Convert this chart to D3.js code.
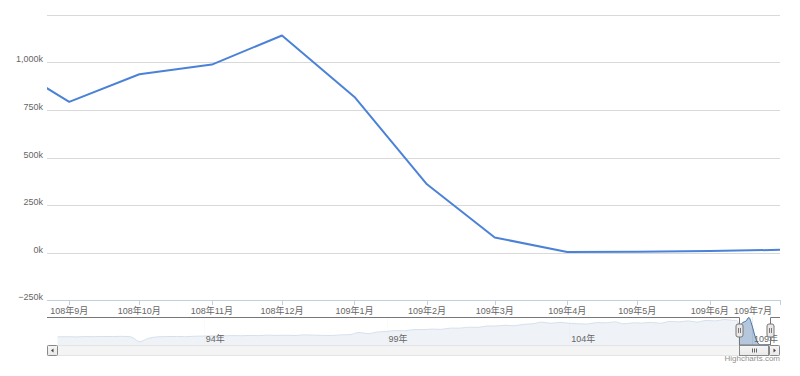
<!DOCTYPE html>
<html>
<head>
<meta charset="utf-8">
<script src="https://cdn.jsdelivr.net/npm/d3@7"></script>
<style>
  html, body { margin: 0; padding: 0; background: #fff; }
  svg { display: block; font-family: "Liberation Sans", Arial, "Noto Sans CJK TC", sans-serif; }
</style>
</head>
<body>
<svg id="chart" width="800" height="376"></svg>
<script>
// ---- Data (values in persons) ----
const mainDates  = ["2019-08-01","2019-09-01","2019-10-01","2019-11-01","2019-12-01","2020-01-01",
                    "2020-02-01","2020-03-01","2020-04-01","2020-05-01","2020-06-01","2020-07-01"];
const mainValues = [1027000, 793000, 938000, 989000, 1142000, 819000,
                    359000, 79000, 3000, 4000, 8000, 14000];

const yTicks = [-250000, 0, 250000, 500000, 750000, 1000000, 1250000];
const monthTicks = ["2019-09-01","2019-10-01","2019-11-01","2019-12-01","2020-01-01","2020-02-01",
                    "2020-03-01","2020-04-01","2020-05-01","2020-06-01","2020-07-01"];

// Navigator history: quarterly estimates (Jan, Apr, Jul, Oct) per year, in persons
const navYears = [2001,2002,2003,2004,2005,2006,2007,2008,2009,2010,2011,2012,2013,2014,2015,2016,2017,2018];
const navQuarterly = [
  [340000, 345000, 335000, 350000],
  [345000, 355000, 350000, 360000],
  [340000, 140000, 280000, 340000],
  [350000, 355000, 345000, 365000],
  [370000, 380000, 375000, 390000],
  [385000, 395000, 390000, 410000],
  [400000, 405000, 395000, 420000],
  [410000, 400000, 395000, 420000],
  [430000, 520000, 470000, 540000],
  [560000, 600000, 590000, 640000],
  [640000, 660000, 650000, 700000],
  [700000, 740000, 730000, 790000],
  [790000, 820000, 800000, 860000],
  [880000, 950000, 900000, 940000],
  [900000, 880000, 870000, 930000],
  [920000, 960000, 880000, 920000],
  [910000, 940000, 900000, 980000],
  [960000, 1000000, 950000, 1020000]
];
const nav2019Dates  = ["2019-01-01","2019-04-01","2019-07-01"];
const nav2019Values = [1000000, 1060000, 1020000];
const navYearTicks = ["2005-01-01","2010-01-01","2015-01-01","2020-01-01"];

// ---- Helpers ----
const parse = s => { const [y,m,d] = s.split("-").map(Number); return new Date(y, m-1, d); };
const rocMonth = d => `${d.getFullYear()-1911}年${d.getMonth()+1}月`;
const rocYear  = d => `${d.getFullYear()-1911}年`;

const svg = d3.select("#chart");

// ---- Main plot ----
const plot = { left: 47, right: 780, top: 15, bottom: 300 };
const x = d3.scaleTime()
  .domain([new Date(2019, 7, 22, 12), new Date(2020, 6, 1)])
  .range([plot.left, plot.right]);
const y = d3.scaleLinear()
  .domain([-250000, 1250000])
  .range([plot.bottom, plot.top]);

// gridlines
svg.append("g").selectAll("line").data(yTicks).join("line")
  .attr("x1", plot.left).attr("x2", plot.right)
  .attr("y1", d => Math.round(y(d)) + 0.5).attr("y2", d => Math.round(y(d)) + 0.5)
  .attr("stroke", "#d9d9d9").attr("stroke-width", 1);

// y labels (no label on top line)
svg.append("g").selectAll("text").data(yTicks.filter(v => v < 1250000)).join("text")
  .attr("x", 43).attr("y", d => Math.round(y(d)) - 0.5)
  .attr("text-anchor", "end")
  .attr("font-size", 9).attr("fill", "#666")
  .text(d => d3.format(",")(d / 1000) + "k");

// x axis line
svg.append("line")
  .attr("x1", plot.left).attr("x2", plot.right)
  .attr("y1", plot.bottom + 0.5).attr("y2", plot.bottom + 0.5)
  .attr("stroke", "#C0D0E0");

const mTicks = monthTicks.map(parse);
svg.append("g").selectAll("line").data(mTicks).join("line")
  .attr("x1", d => Math.round(x(d)) + 0.5).attr("x2", d => Math.round(x(d)) + 0.5)
  .attr("y1", plot.bottom).attr("y2", plot.bottom + 5)
  .attr("stroke", "#C0D0E0");

svg.append("g").selectAll("text").data(mTicks).join("text")
  .attr("x", (d, i) => i === mTicks.length - 1 ? 772 : x(d))
  .attr("y", 314)
  .attr("text-anchor", (d, i) => i === mTicks.length - 1 ? "end" : "middle")
  .attr("font-size", 9).attr("fill", "#666")
  .text(rocMonth);

// clip + line
svg.append("clipPath").attr("id", "plotClip").append("rect")
  .attr("x", plot.left).attr("y", plot.top)
  .attr("width", plot.right - plot.left).attr("height", plot.bottom - plot.top);

const mainData = mainDates.map((d, i) => ({ date: parse(d), value: mainValues[i] }));
svg.append("path")
  .datum(mainData)
  .attr("clip-path", "url(#plotClip)")
  .attr("fill", "none")
  .attr("stroke", "#4b82d8")
  .attr("stroke-width", 2)
  .attr("stroke-linejoin", "round")
  .attr("d", d3.line().x(d => x(d.date)).y(d => y(d.value)));

// ---- Navigator ----
const nav = { left: 47, right: 780, top: 317, bottom: 345 };
const nx = d3.scaleTime()
  .domain([new Date(2000, 8, 17), new Date(2020, 9, 7)])
  .range([nav.left, nav.right]);
const ny = d3.scaleLinear().domain([0, 1142000]).range([nav.bottom, nav.top + 0.5]);

const navData = [];
navYears.forEach((yr, i) => {
  navQuarterly[i].forEach((v, q) => navData.push({ date: new Date(yr, q * 3, 1), value: v }));
});
nav2019Dates.forEach((d, i) => navData.push({ date: parse(d), value: nav2019Values[i] }));
mainData.forEach(d => navData.push(d));

// year gridlines
const yTicksNav = navYearTicks.map(parse);
svg.append("g").selectAll("line").data(yTicksNav).join("line")
  .attr("x1", d => Math.round(nx(d)) + 0.5).attr("x2", d => Math.round(nx(d)) + 0.5)
  .attr("y1", nav.top).attr("y2", nav.bottom)
  .attr("stroke", "#ececec");

const area = d3.area().curve(d3.curveMonotoneX)
  .x(d => nx(d.date)).y0(nav.bottom).y1(d => ny(d.value));
const navLine = d3.line().curve(d3.curveMonotoneX)
  .x(d => nx(d.date)).y(d => ny(d.value));

svg.append("path").datum(navData)
  .attr("d", area).attr("fill", "#4572A7").attr("fill-opacity", 0.4);
svg.append("path").datum(navData)
  .attr("d", navLine).attr("fill", "none").attr("stroke", "#4572A7").attr("stroke-width", 1);

const selMin = nx(x.domain()[0]);
const selMax = nx(x.domain()[1]);

// masks
svg.append("rect").attr("x", nav.left).attr("y", nav.top)
  .attr("width", selMin - nav.left).attr("height", nav.bottom - nav.top)
  .attr("fill", "rgba(255,255,255,0.78)");
svg.append("rect").attr("x", selMax).attr("y", nav.top)
  .attr("width", nav.right - selMax).attr("height", nav.bottom - nav.top)
  .attr("fill", "rgba(255,255,255,0.78)");

// year labels
svg.append("g").selectAll("text").data(yTicksNav).join("text")
  .attr("x", d => nx(d) + 2).attr("y", 342)
  .attr("font-size", 9).attr("fill", "#666")
  .text(rocYear);

// outline
const sx0 = Math.round(selMin) + 0.5, sx1 = Math.round(selMax) + 0.5;
svg.append("path")
  .attr("d", `M${nav.left},${nav.top + 0.5}H${sx0}V${nav.bottom}H${sx1}V${nav.top + 0.5}H${nav.right}`)
  .attr("fill", "none").attr("stroke", "#777").attr("stroke-width", 1);

// handles
[sx0, sx1].forEach(hx => {
  const g = svg.append("g").attr("transform", `translate(${hx},${324})`);
  g.append("rect").attr("x", -3.5).attr("y", 0).attr("width", 7).attr("height", 13)
    .attr("rx", 2).attr("fill", "#ebe7e8").attr("stroke", "#777");
  g.append("line").attr("x1", -1).attr("x2", -1).attr("y1", 4).attr("y2", 9).attr("stroke", "#777");
  g.append("line").attr("x1", 1).attr("x2", 1).attr("y1", 4).attr("y2", 9).attr("stroke", "#777");
});

// ---- Scrollbar ----
const sb = { top: 345.5, h: 10 };
const grad = svg.append("defs").append("linearGradient").attr("id", "sbGrad")
  .attr("x1", 0).attr("x2", 0).attr("y1", 0).attr("y2", 1);
grad.append("stop").attr("offset", 0).attr("stop-color", "#f6f6f6");
grad.append("stop").attr("offset", 1).attr("stop-color", "#e8e8e8");

svg.append("rect").attr("x", nav.left + 0.5).attr("y", sb.top)
  .attr("width", nav.right - nav.left - 1).attr("height", sb.h)
  .attr("fill", "#f4f4f4").attr("stroke", "#e4e4e4");

// thumb
svg.append("rect").attr("x", sx0).attr("y", sb.top)
  .attr("width", sx1 - 2 - sx0).attr("height", sb.h)
  .attr("fill", "url(#sbGrad)").attr("stroke", "#888");
const tc = (sx0 + sx1 - 2) / 2;
[-2, 0, 2].forEach(o => svg.append("line")
  .attr("x1", Math.round(tc) + o + 0.5).attr("x2", Math.round(tc) + o + 0.5)
  .attr("y1", sb.top + 3).attr("y2", sb.top + 7).attr("stroke", "#666"));

// buttons
function button(bx, dir) {
  svg.append("rect").attr("x", bx).attr("y", sb.top).attr("width", 10).attr("height", sb.h)
    .attr("rx", 1).attr("fill", "url(#sbGrad)").attr("stroke", "#888");
  const cx = bx + 5, cy = sb.top + sb.h / 2;
  svg.append("path")
    .attr("d", dir < 0 ? `M${cx+1},${cy-2}L${cx-1.5},${cy}L${cx+1},${cy+2}Z` : `M${cx-1},${cy-2}L${cx+1.5},${cy}L${cx-1},${cy+2}Z`)
    .attr("fill", "#444");
}
button(nav.left + 0.5, -1);
button(nav.right - 10.5, 1);

// credits
svg.append("text").attr("x", 780).attr("y", 361).attr("text-anchor", "end")
  .attr("font-size", 8).attr("fill", "#909090").text("Highcharts.com");
</script>
</body>
</html>
